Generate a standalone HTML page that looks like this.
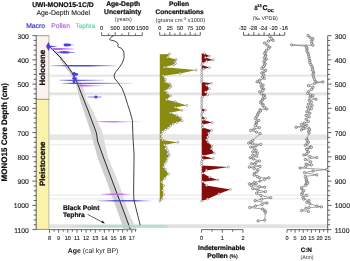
<!DOCTYPE html><html><head><meta charset="utf-8"><style>html,body{margin:0;padding:0;background:#fff;overflow:hidden}svg{display:block;will-change:transform}text{font-family:"Liberation Sans", sans-serif;text-rendering:geometricPrecision}text[font-weight=bold]{stroke:#111;stroke-width:0.22px}</style></head><body>
<svg width="350" height="261" viewBox="0 0 350 261">
<rect width="350" height="261" fill="#fff"/>
<rect x="49.5" y="74.6" width="278.5" height="2.200000000000003" fill="#e6e6e6"/>
<rect x="49.5" y="92.4" width="278.5" height="2.8999999999999915" fill="#e4e4e4"/>
<rect x="49.5" y="134.3" width="278.5" height="5.699999999999989" fill="#e7e7e7"/>
<rect x="49.5" y="143.8" width="278.5" height="1.5" fill="#eeeeee"/>
<rect x="49.5" y="194.6" width="278.5" height="1.200000000000017" fill="#ececec"/>
<rect x="49.5" y="198.0" width="278.5" height="1.5" fill="#efefef"/>
<rect x="49.5" y="224.3" width="278.5" height="3.6999999999999886" fill="#e2e2e2"/>
<rect x="36.2" y="35.6" width="12.6" height="63.7" fill="#fcf3f1"/>
<rect x="36.2" y="99.3" width="12.6" height="130.3" fill="#fcf3ab"/>
<line x1="48.9" y1="35.6" x2="48.9" y2="229.6" stroke="#b4b4a4" stroke-width="0.9"/>
<line x1="36" y1="35.7" x2="49.3" y2="35.7" stroke="#8a8480" stroke-width="0.8"/>
<line x1="36" y1="99.3" x2="49.3" y2="99.3" stroke="#6a6a60" stroke-width="0.7"/>
<line x1="36" y1="229.4" x2="49.3" y2="229.4" stroke="#6a6a60" stroke-width="0.7"/>
<text transform="translate(44.7,67.65) rotate(-90)" text-anchor="middle" font-size="7.9" font-weight="bold" fill="#111" textLength="35.7" lengthAdjust="spacingAndGlyphs">Holocene</text>
<text transform="translate(44.7,163.75) rotate(-90)" text-anchor="middle" font-size="7.8" font-weight="bold" fill="#111" textLength="44.5" lengthAdjust="spacingAndGlyphs">Pleistocene</text>
<g stroke="#3a3a3a" stroke-width="0.8" fill="none">
<line x1="36.2" y1="35.6" x2="36.2" y2="229.6"/>
<line x1="32.40" y1="35.60" x2="36.2" y2="35.60"/>
<line x1="33.70" y1="40.45" x2="36.2" y2="40.45"/>
<line x1="33.70" y1="45.30" x2="36.2" y2="45.30"/>
<line x1="33.70" y1="50.15" x2="36.2" y2="50.15"/>
<line x1="33.70" y1="55.00" x2="36.2" y2="55.00"/>
<line x1="32.40" y1="59.85" x2="36.2" y2="59.85"/>
<line x1="33.70" y1="64.70" x2="36.2" y2="64.70"/>
<line x1="33.70" y1="69.55" x2="36.2" y2="69.55"/>
<line x1="33.70" y1="74.40" x2="36.2" y2="74.40"/>
<line x1="33.70" y1="79.25" x2="36.2" y2="79.25"/>
<line x1="32.40" y1="84.10" x2="36.2" y2="84.10"/>
<line x1="33.70" y1="88.95" x2="36.2" y2="88.95"/>
<line x1="33.70" y1="93.80" x2="36.2" y2="93.80"/>
<line x1="33.70" y1="98.65" x2="36.2" y2="98.65"/>
<line x1="33.70" y1="103.50" x2="36.2" y2="103.50"/>
<line x1="32.40" y1="108.35" x2="36.2" y2="108.35"/>
<line x1="33.70" y1="113.20" x2="36.2" y2="113.20"/>
<line x1="33.70" y1="118.05" x2="36.2" y2="118.05"/>
<line x1="33.70" y1="122.90" x2="36.2" y2="122.90"/>
<line x1="33.70" y1="127.75" x2="36.2" y2="127.75"/>
<line x1="32.40" y1="132.60" x2="36.2" y2="132.60"/>
<line x1="33.70" y1="137.45" x2="36.2" y2="137.45"/>
<line x1="33.70" y1="142.30" x2="36.2" y2="142.30"/>
<line x1="33.70" y1="147.15" x2="36.2" y2="147.15"/>
<line x1="33.70" y1="152.00" x2="36.2" y2="152.00"/>
<line x1="32.40" y1="156.85" x2="36.2" y2="156.85"/>
<line x1="33.70" y1="161.70" x2="36.2" y2="161.70"/>
<line x1="33.70" y1="166.55" x2="36.2" y2="166.55"/>
<line x1="33.70" y1="171.40" x2="36.2" y2="171.40"/>
<line x1="33.70" y1="176.25" x2="36.2" y2="176.25"/>
<line x1="32.40" y1="181.10" x2="36.2" y2="181.10"/>
<line x1="33.70" y1="185.95" x2="36.2" y2="185.95"/>
<line x1="33.70" y1="190.80" x2="36.2" y2="190.80"/>
<line x1="33.70" y1="195.65" x2="36.2" y2="195.65"/>
<line x1="33.70" y1="200.50" x2="36.2" y2="200.50"/>
<line x1="32.40" y1="205.35" x2="36.2" y2="205.35"/>
<line x1="33.70" y1="210.20" x2="36.2" y2="210.20"/>
<line x1="33.70" y1="215.05" x2="36.2" y2="215.05"/>
<line x1="33.70" y1="219.90" x2="36.2" y2="219.90"/>
<line x1="33.70" y1="224.75" x2="36.2" y2="224.75"/>
<line x1="32.40" y1="229.60" x2="36.2" y2="229.60"/>
</g>
<g font-size="6.8" fill="#1e1e1e" text-anchor="end" stroke="#1e1e1e" stroke-width="0.12">
<text x="28.8" y="38.50">300</text>
<text x="28.8" y="62.75">400</text>
<text x="28.8" y="87.00">500</text>
<text x="28.8" y="111.25">600</text>
<text x="28.8" y="135.50">700</text>
<text x="28.8" y="159.75">800</text>
<text x="28.8" y="184.00">900</text>
<text x="28.8" y="208.25">1000</text>
<text x="28.8" y="232.50">1100</text>
</g>
<text transform="translate(6.7,132.25) rotate(-90)" text-anchor="middle" font-size="8" font-weight="bold" fill="#111" textLength="98.3" lengthAdjust="spacingAndGlyphs">MONO15 Core Depth (cm)</text>
<g stroke="#3a3a3a" stroke-width="0.8" fill="none">
<line x1="327.7" y1="35.8" x2="327.7" y2="229.6"/>
<line x1="327.7" y1="35.60" x2="331.50" y2="35.60"/>
<line x1="327.7" y1="40.45" x2="330.20" y2="40.45"/>
<line x1="327.7" y1="45.30" x2="330.20" y2="45.30"/>
<line x1="327.7" y1="50.15" x2="330.20" y2="50.15"/>
<line x1="327.7" y1="55.00" x2="330.20" y2="55.00"/>
<line x1="327.7" y1="59.85" x2="331.50" y2="59.85"/>
<line x1="327.7" y1="64.70" x2="330.20" y2="64.70"/>
<line x1="327.7" y1="69.55" x2="330.20" y2="69.55"/>
<line x1="327.7" y1="74.40" x2="330.20" y2="74.40"/>
<line x1="327.7" y1="79.25" x2="330.20" y2="79.25"/>
<line x1="327.7" y1="84.10" x2="331.50" y2="84.10"/>
<line x1="327.7" y1="88.95" x2="330.20" y2="88.95"/>
<line x1="327.7" y1="93.80" x2="330.20" y2="93.80"/>
<line x1="327.7" y1="98.65" x2="330.20" y2="98.65"/>
<line x1="327.7" y1="103.50" x2="330.20" y2="103.50"/>
<line x1="327.7" y1="108.35" x2="331.50" y2="108.35"/>
<line x1="327.7" y1="113.20" x2="330.20" y2="113.20"/>
<line x1="327.7" y1="118.05" x2="330.20" y2="118.05"/>
<line x1="327.7" y1="122.90" x2="330.20" y2="122.90"/>
<line x1="327.7" y1="127.75" x2="330.20" y2="127.75"/>
<line x1="327.7" y1="132.60" x2="331.50" y2="132.60"/>
<line x1="327.7" y1="137.45" x2="330.20" y2="137.45"/>
<line x1="327.7" y1="142.30" x2="330.20" y2="142.30"/>
<line x1="327.7" y1="147.15" x2="330.20" y2="147.15"/>
<line x1="327.7" y1="152.00" x2="330.20" y2="152.00"/>
<line x1="327.7" y1="156.85" x2="331.50" y2="156.85"/>
<line x1="327.7" y1="161.70" x2="330.20" y2="161.70"/>
<line x1="327.7" y1="166.55" x2="330.20" y2="166.55"/>
<line x1="327.7" y1="171.40" x2="330.20" y2="171.40"/>
<line x1="327.7" y1="176.25" x2="330.20" y2="176.25"/>
<line x1="327.7" y1="181.10" x2="331.50" y2="181.10"/>
<line x1="327.7" y1="185.95" x2="330.20" y2="185.95"/>
<line x1="327.7" y1="190.80" x2="330.20" y2="190.80"/>
<line x1="327.7" y1="195.65" x2="330.20" y2="195.65"/>
<line x1="327.7" y1="200.50" x2="330.20" y2="200.50"/>
<line x1="327.7" y1="205.35" x2="331.50" y2="205.35"/>
<line x1="327.7" y1="210.20" x2="330.20" y2="210.20"/>
<line x1="327.7" y1="215.05" x2="330.20" y2="215.05"/>
<line x1="327.7" y1="219.90" x2="330.20" y2="219.90"/>
<line x1="327.7" y1="224.75" x2="330.20" y2="224.75"/>
<line x1="327.7" y1="229.60" x2="331.50" y2="229.60"/>
</g>
<g font-size="6.8" fill="#1e1e1e" text-anchor="start" stroke="#1e1e1e" stroke-width="0.12">
<text x="334.8" y="38.50">300</text>
<text x="334.8" y="62.75">400</text>
<text x="334.8" y="87.00">500</text>
<text x="334.8" y="111.25">600</text>
<text x="334.8" y="135.50">700</text>
<text x="334.8" y="159.75">800</text>
<text x="334.8" y="184.00">900</text>
<text x="334.8" y="208.25">1000</text>
<text x="334.8" y="232.50">1100</text>
</g>
<text x="63" y="6.9" text-anchor="middle" font-size="6.75" font-weight="bold" fill="#111">UWI-MONO15-1C/D</text>
<text x="63.2" y="14.5" text-anchor="middle" font-size="6.9" fill="#1a1a1a" stroke="#1a1a1a" stroke-width="0.1">Age-Depth Model</text>
<text x="26.2" y="27.8" font-size="6.75" fill="#3434cc" stroke="#3434cc" stroke-width="0.18">Macro</text>
<text x="51.2" y="27.8" font-size="6.75" fill="#b864ea" stroke="#b864ea" stroke-width="0.18">Pollen</text>
<text x="75.5" y="27.8" font-size="6.5" fill="#66d4a0" stroke="#66d4a0" stroke-width="0.18">Tephra</text>
<text x="123.2" y="5.8" text-anchor="middle" font-size="6.75" font-weight="bold" fill="#111">Age-Depth</text>
<text x="122.6" y="13.6" text-anchor="middle" font-size="6.75" font-weight="bold" fill="#111">Uncertainty</text>
<text x="123.4" y="21" text-anchor="middle" font-size="5.5" fill="#333">(years)</text>
<text x="179" y="5.8" text-anchor="middle" font-size="6.7" font-weight="bold" fill="#111">Pollen</text>
<text x="179.6" y="13.6" text-anchor="middle" font-size="6.6" font-weight="bold" fill="#111">Concentrations</text>
<text x="180.4" y="21.5" text-anchor="middle" font-size="5.75" fill="#333">(grains cm<tspan font-size="4" dy="-2">-3</tspan><tspan dy="2"> x1000)</tspan></text>
<text x="254.2" y="9.6" font-size="5.6" font-weight="bold" fill="#1a1a1a">δ</text>
<text x="257.3" y="7.0" font-size="3.8" font-weight="bold" fill="#1a1a1a">13</text>
<text x="262.6" y="9.6" font-size="7" font-weight="bold" fill="#111">C</text>
<text x="267.5" y="11.7" font-size="4.3" font-weight="bold" fill="#111">OC</text>
<text x="265.3" y="20.1" text-anchor="middle" font-size="5.4" fill="#333">(‰ VPDB)</text>
<text x="93.1" y="253.3" text-anchor="middle" font-size="6.9" fill="#222"><tspan font-weight="bold" fill="#111">Age</tspan> (cal kyr BP)</text>
<text x="221.5" y="250" text-anchor="middle" font-size="6.6" font-weight="bold" fill="#111">Indeterminable</text>
<text x="222.5" y="258.4" text-anchor="middle" font-size="6.8" font-weight="bold" fill="#111">Pollen <tspan font-size="5.2" font-weight="normal" fill="#333">(%)</tspan></text>
<text x="306.3" y="251.8" text-anchor="middle" font-size="6.3" font-weight="bold" fill="#111">C:N</text>
<text x="307.1" y="259.3" text-anchor="middle" font-size="5.3" fill="#333">(Atm)</text>
<g stroke="#444" stroke-width="0.8" fill="none">
<line x1="101.6" y1="35.6" x2="142.3" y2="35.6"/>
<line x1="101.60" y1="35.6" x2="101.60" y2="32.2"/>
<line x1="115.17" y1="35.6" x2="115.17" y2="32.2"/>
<line x1="128.73" y1="35.6" x2="128.73" y2="32.2"/>
<line x1="142.30" y1="35.6" x2="142.30" y2="32.2"/>
<line x1="108.38" y1="35.6" x2="108.38" y2="33.5"/>
<line x1="121.95" y1="35.6" x2="121.95" y2="33.5"/>
<line x1="135.52" y1="35.6" x2="135.52" y2="33.5"/>
</g>
<g font-size="5.6" fill="#1e1e1e" stroke="#1e1e1e" stroke-width="0.1" text-anchor="middle">
<text x="101.60" y="29.9">0</text>
<text x="115.17" y="29.9">500</text>
<text x="128.73" y="29.9">1000</text>
<text x="142.30" y="29.9">1500</text>
</g>
<g stroke="#444" stroke-width="0.8" fill="none">
<line x1="159.7" y1="35.3" x2="200.3" y2="35.3"/>
<line x1="159.70" y1="35.3" x2="159.70" y2="31.9"/>
<line x1="169.85" y1="35.3" x2="169.85" y2="31.9"/>
<line x1="180.00" y1="35.3" x2="180.00" y2="31.9"/>
<line x1="190.15" y1="35.3" x2="190.15" y2="31.9"/>
<line x1="200.30" y1="35.3" x2="200.30" y2="31.9"/>
<line x1="164.77" y1="35.3" x2="164.77" y2="33.199999999999996"/>
<line x1="174.93" y1="35.3" x2="174.93" y2="33.199999999999996"/>
<line x1="185.07" y1="35.3" x2="185.07" y2="33.199999999999996"/>
<line x1="195.23" y1="35.3" x2="195.23" y2="33.199999999999996"/>
</g>
<g font-size="5.6" fill="#1e1e1e" stroke="#1e1e1e" stroke-width="0.1" text-anchor="middle">
<text x="159.70" y="29.9">0</text>
<text x="169.85" y="29.9">25</text>
<text x="180.00" y="29.9">50</text>
<text x="190.15" y="29.9">75</text>
<text x="200.30" y="29.9">100</text>
</g>
<g stroke="#444" stroke-width="0.8" fill="none">
<line x1="243.5" y1="35.3" x2="284.7" y2="35.3"/>
<line x1="243.50" y1="35.3" x2="243.50" y2="31.9"/>
<line x1="253.80" y1="35.3" x2="253.80" y2="31.9"/>
<line x1="264.10" y1="35.3" x2="264.10" y2="31.9"/>
<line x1="274.40" y1="35.3" x2="274.40" y2="31.9"/>
<line x1="284.70" y1="35.3" x2="284.70" y2="31.9"/>
<line x1="248.65" y1="35.3" x2="248.65" y2="33.199999999999996"/>
<line x1="258.95" y1="35.3" x2="258.95" y2="33.199999999999996"/>
<line x1="269.25" y1="35.3" x2="269.25" y2="33.199999999999996"/>
<line x1="279.55" y1="35.3" x2="279.55" y2="33.199999999999996"/>
</g>
<g font-size="5.6" fill="#1e1e1e" stroke="#1e1e1e" stroke-width="0.1" text-anchor="middle">
<text x="242.70" y="29.9">-32</text>
<text x="253.00" y="29.9">-28</text>
<text x="263.30" y="29.9">-24</text>
<text x="273.60" y="29.9">-20</text>
<text x="283.90" y="29.9">-16</text>
</g>
<g stroke="#444" stroke-width="0.8" fill="none">
<line x1="49.5" y1="229.6" x2="136.5" y2="229.6"/>
<line x1="49.50" y1="229.6" x2="49.50" y2="232.79999999999998"/>
<line x1="58.65" y1="229.6" x2="58.65" y2="232.79999999999998"/>
<line x1="67.80" y1="229.6" x2="67.80" y2="232.79999999999998"/>
<line x1="76.95" y1="229.6" x2="76.95" y2="232.79999999999998"/>
<line x1="86.10" y1="229.6" x2="86.10" y2="232.79999999999998"/>
<line x1="95.25" y1="229.6" x2="95.25" y2="232.79999999999998"/>
<line x1="104.40" y1="229.6" x2="104.40" y2="232.79999999999998"/>
<line x1="113.55" y1="229.6" x2="113.55" y2="232.79999999999998"/>
<line x1="122.70" y1="229.6" x2="122.70" y2="232.79999999999998"/>
<line x1="131.85" y1="229.6" x2="131.85" y2="232.79999999999998"/>
<line x1="54.08" y1="229.6" x2="54.08" y2="231.7"/>
<line x1="63.23" y1="229.6" x2="63.23" y2="231.7"/>
<line x1="72.38" y1="229.6" x2="72.38" y2="231.7"/>
<line x1="81.53" y1="229.6" x2="81.53" y2="231.7"/>
<line x1="90.68" y1="229.6" x2="90.68" y2="231.7"/>
<line x1="99.83" y1="229.6" x2="99.83" y2="231.7"/>
<line x1="108.97" y1="229.6" x2="108.97" y2="231.7"/>
<line x1="118.12" y1="229.6" x2="118.12" y2="231.7"/>
<line x1="127.28" y1="229.6" x2="127.28" y2="231.7"/>
<line x1="135.51" y1="229.6" x2="135.51" y2="231.7"/>
</g>
<g font-size="5.6" fill="#1e1e1e" stroke="#1e1e1e" stroke-width="0.1" text-anchor="middle">
<text x="49.50" y="240.4">8</text>
<text x="58.65" y="240.4">9</text>
<text x="67.80" y="240.4">10</text>
<text x="76.95" y="240.4">11</text>
<text x="86.10" y="240.4">12</text>
<text x="95.25" y="240.4">13</text>
<text x="104.40" y="240.4">14</text>
<text x="113.55" y="240.4">15</text>
<text x="122.70" y="240.4">16</text>
<text x="131.85" y="240.4">17</text>
</g>
<g stroke="#444" stroke-width="0.8" fill="none">
<line x1="201.6" y1="229.6" x2="243.0" y2="229.6"/>
<line x1="201.60" y1="229.6" x2="201.60" y2="232.79999999999998"/>
<line x1="222.30" y1="229.6" x2="222.30" y2="232.79999999999998"/>
<line x1="243.00" y1="229.6" x2="243.00" y2="232.79999999999998"/>
<line x1="211.95" y1="229.6" x2="211.95" y2="231.7"/>
<line x1="232.65" y1="229.6" x2="232.65" y2="231.7"/>
</g>
<g font-size="5.6" fill="#1e1e1e" stroke="#1e1e1e" stroke-width="0.1" text-anchor="middle">
<text x="201.60" y="240.4">0</text>
<text x="222.30" y="240.4">1</text>
<text x="243.00" y="240.4">2</text>
</g>
<g stroke="#444" stroke-width="0.8" fill="none">
<line x1="287.0" y1="229.6" x2="327.7" y2="229.6"/>
<line x1="287.00" y1="229.6" x2="287.00" y2="232.79999999999998"/>
<line x1="295.14" y1="229.6" x2="295.14" y2="232.79999999999998"/>
<line x1="303.28" y1="229.6" x2="303.28" y2="232.79999999999998"/>
<line x1="311.42" y1="229.6" x2="311.42" y2="232.79999999999998"/>
<line x1="319.56" y1="229.6" x2="319.56" y2="232.79999999999998"/>
<line x1="327.70" y1="229.6" x2="327.70" y2="232.79999999999998"/>
<line x1="291.07" y1="229.6" x2="291.07" y2="231.7"/>
<line x1="299.21" y1="229.6" x2="299.21" y2="231.7"/>
<line x1="307.35" y1="229.6" x2="307.35" y2="231.7"/>
<line x1="315.49" y1="229.6" x2="315.49" y2="231.7"/>
<line x1="323.63" y1="229.6" x2="323.63" y2="231.7"/>
</g>
<g font-size="5.6" fill="#1e1e1e" stroke="#1e1e1e" stroke-width="0.1" text-anchor="middle">
<text x="287.00" y="240.4">0</text>
<text x="295.14" y="240.4">5</text>
<text x="303.28" y="240.4">10</text>
<text x="311.42" y="240.4">15</text>
<text x="319.56" y="240.4">20</text>
<text x="327.70" y="240.4">25</text>
</g>
<polygon points="48.20,45.80 52.00,50.00 59.50,58.00 60.10,60.00 64.50,66.00 71.00,75.00 76.20,85.00 80.10,100.00 83.40,110.00 90.70,132.00 97.40,157.00 108.40,186.00 118.80,215.00 122.20,225.00 123.50,229.30 130.30,229.30 128.80,225.00 125.10,215.00 114.20,186.00 103.30,157.00 97.60,141.00 96.60,134.00 95.80,131.00 91.60,120.00 87.90,110.00 83.90,100.00 80.00,90.00 78.10,85.00 76.50,81.00 73.70,75.00 66.80,65.00 62.30,60.00 61.00,58.00 50.50,47.50 48.50,46.00" fill="#cecece"/>
<polygon points="48.50,46.00 50.50,47.50 61.00,58.00 62.30,60.00 66.80,65.00 73.70,75.00 76.50,81.00 78.10,85.00 80.00,90.00 83.90,100.00 87.90,110.00 91.60,120.00 95.80,131.00 96.60,134.00 97.60,141.00 103.30,157.00 114.20,186.00 125.10,215.00 128.80,225.00 130.30,229.30 136.60,229.30 135.00,225.00 129.70,215.00 119.70,186.00 107.90,157.00 102.40,132.00 92.50,110.00 86.80,100.00 82.50,85.00 75.50,75.00 68.50,66.00 63.70,60.00 63.50,58.00 55.00,50.00 50.30,46.50" fill="#dcdcdc"/>
<polyline points="48.50,46.00 50.50,47.50 61.00,58.00 62.30,60.00 66.80,65.00 73.70,75.00 76.50,81.00 78.10,85.00 80.00,90.00 83.90,100.00 87.90,110.00 91.60,120.00 95.80,131.00 96.60,134.00 97.60,141.00 103.30,157.00 114.20,186.00 125.10,215.00 128.80,225.00 130.30,229.30" fill="none" stroke="#2a2a2a" stroke-width="1.0"/>
<defs><linearGradient id="pg1" gradientUnits="userSpaceOnUse" x1="63.2" y1="0" x2="73.5" y2="0"><stop offset="0.000" stop-color="#4a42da" stop-opacity="0.4"/><stop offset="0.126" stop-color="#4a42da" stop-opacity="1"/><stop offset="0.369" stop-color="#4a42da" stop-opacity="1"/><stop offset="0.660" stop-color="#4a42da" stop-opacity="1"/><stop offset="0.777" stop-color="#4a42da" stop-opacity="0.7"/><stop offset="1.000" stop-color="#4a42da" stop-opacity="0.3"/></linearGradient><linearGradient id="pg2" gradientUnits="userSpaceOnUse" x1="50.6" y1="0" x2="73.7" y2="0"><stop offset="0.000" stop-color="#c064f0" stop-opacity="0.6"/><stop offset="0.147" stop-color="#c064f0" stop-opacity="1"/><stop offset="0.407" stop-color="#c064f0" stop-opacity="1"/><stop offset="0.580" stop-color="#c064f0" stop-opacity="0.85"/><stop offset="1.000" stop-color="#c064f0" stop-opacity="0.45"/></linearGradient><linearGradient id="pg3" gradientUnits="userSpaceOnUse" x1="56.6" y1="0" x2="74.9" y2="0"><stop offset="0.000" stop-color="#4a42da" stop-opacity="0.5"/><stop offset="0.240" stop-color="#4a42da" stop-opacity="0.9"/><stop offset="0.404" stop-color="#4a42da" stop-opacity="1"/><stop offset="0.623" stop-color="#4a42da" stop-opacity="0.9"/><stop offset="0.732" stop-color="#4a42da" stop-opacity="0.7"/><stop offset="1.000" stop-color="#4a42da" stop-opacity="0.5"/></linearGradient><linearGradient id="pg4" gradientUnits="userSpaceOnUse" x1="51" y1="0" x2="116.7" y2="0"><stop offset="0.000" stop-color="#4a42da" stop-opacity="0.3"/><stop offset="0.137" stop-color="#4a42da" stop-opacity="0.6"/><stop offset="0.289" stop-color="#4a42da" stop-opacity="0.95"/><stop offset="0.594" stop-color="#4a42da" stop-opacity="0.95"/><stop offset="0.746" stop-color="#4a42da" stop-opacity="0.7"/><stop offset="1.000" stop-color="#4a42da" stop-opacity="0.2"/></linearGradient><linearGradient id="pg5" gradientUnits="userSpaceOnUse" x1="59.4" y1="0" x2="103.8" y2="0"><stop offset="0.000" stop-color="#4a42da" stop-opacity="0.3"/><stop offset="0.239" stop-color="#4a42da" stop-opacity="0.85"/><stop offset="0.464" stop-color="#4a42da" stop-opacity="0.85"/><stop offset="1.000" stop-color="#4a42da" stop-opacity="0.2"/></linearGradient><linearGradient id="pg6" gradientUnits="userSpaceOnUse" x1="61.6" y1="0" x2="133.5" y2="0"><stop offset="0.000" stop-color="#4a42da" stop-opacity="0.3"/><stop offset="0.145" stop-color="#4a42da" stop-opacity="0.9"/><stop offset="0.465" stop-color="#4a42da" stop-opacity="0.8"/><stop offset="0.673" stop-color="#4a42da" stop-opacity="0.5"/><stop offset="1.000" stop-color="#4a42da" stop-opacity="0.15"/></linearGradient><linearGradient id="pg7" gradientUnits="userSpaceOnUse" x1="78.4" y1="0" x2="104" y2="0"><stop offset="0.000" stop-color="#c064f0" stop-opacity="0.4"/><stop offset="0.062" stop-color="#c064f0" stop-opacity="1"/><stop offset="0.297" stop-color="#c064f0" stop-opacity="0.9"/><stop offset="0.648" stop-color="#c064f0" stop-opacity="0.5"/><stop offset="1.000" stop-color="#c064f0" stop-opacity="0.15"/></linearGradient><linearGradient id="pg8" gradientUnits="userSpaceOnUse" x1="87.4" y1="0" x2="101.8" y2="0"><stop offset="0.000" stop-color="#4a42da" stop-opacity="0.5"/><stop offset="0.528" stop-color="#4a42da" stop-opacity="0.8"/><stop offset="1.000" stop-color="#4a42da" stop-opacity="0.5"/></linearGradient><linearGradient id="pg9" gradientUnits="userSpaceOnUse" x1="95" y1="0" x2="141.5" y2="0"><stop offset="0.000" stop-color="#c064f0" stop-opacity="0.2"/><stop offset="0.172" stop-color="#c064f0" stop-opacity="0.75"/><stop offset="0.430" stop-color="#c064f0" stop-opacity="0.85"/><stop offset="0.645" stop-color="#c064f0" stop-opacity="0.5"/><stop offset="1.000" stop-color="#c064f0" stop-opacity="0.15"/></linearGradient><linearGradient id="pg10" gradientUnits="userSpaceOnUse" x1="100.7" y1="0" x2="130.4" y2="0"><stop offset="0.000" stop-color="#c064f0" stop-opacity="0.3"/><stop offset="0.313" stop-color="#c064f0" stop-opacity="0.9"/><stop offset="0.717" stop-color="#c064f0" stop-opacity="0.9"/><stop offset="1.000" stop-color="#c064f0" stop-opacity="0.2"/></linearGradient><linearGradient id="pg11" gradientUnits="userSpaceOnUse" x1="97" y1="0" x2="151.5" y2="0"><stop offset="0.000" stop-color="#4a42da" stop-opacity="0.3"/><stop offset="0.312" stop-color="#4a42da" stop-opacity="0.85"/><stop offset="0.697" stop-color="#4a42da" stop-opacity="0.85"/><stop offset="1.000" stop-color="#4a42da" stop-opacity="0.15"/></linearGradient><linearGradient id="pg12" gradientUnits="userSpaceOnUse" x1="66" y1="0" x2="167.5" y2="0"><stop offset="0.000" stop-color="#a4dbc6" stop-opacity="0"/><stop offset="0.158" stop-color="#a4dbc6" stop-opacity="0.45"/><stop offset="0.335" stop-color="#a4dbc6" stop-opacity="0.7"/><stop offset="0.926" stop-color="#a4dbc6" stop-opacity="0.7"/><stop offset="1.000" stop-color="#a4dbc6" stop-opacity="0.5"/></linearGradient>
</defs>
<polygon points="46,46.3 48.5,42 50.3,45.8 58,46.8 50.3,47.3 48.5,51.1" fill="#4a42da"/>
<polygon points="63.20,44.60 64.50,43.60 67.00,43.40 70.00,43.70 71.20,44.40 73.50,44.60 73.50,45.20 71.20,45.40 70.00,46.10 67.00,46.40 64.50,46.20 63.20,45.20" fill="url(#pg1)"/>
<polygon points="50.60,48.50 54.00,47.90 60.00,47.90 64.00,48.10 73.70,48.40 73.70,49.40 64.00,49.70 60.00,49.90 54.00,49.90 50.60,49.30" fill="url(#pg2)"/>
<polygon points="56.60,51.90 61.00,51.30 64.00,51.00 68.00,51.20 70.00,51.70 74.90,51.90 74.90,52.70 70.00,52.90 68.00,53.40 64.00,53.60 61.00,53.30 56.60,52.70" fill="url(#pg3)"/>
<polygon points="51.00,65.15 60.00,65.10 70.00,64.95 90.00,64.95 100.00,65.05 116.70,65.25 116.70,66.15 100.00,66.35 90.00,66.45 70.00,66.45 60.00,66.30 51.00,66.25" fill="url(#pg4)"/>
<ellipse cx="75" cy="74.3" rx="3.2" ry="1.5" fill="#4a42da"/>
<ellipse cx="74.5" cy="78.4" rx="2.4" ry="1.2" fill="#4a42da"/>
<ellipse cx="74" cy="81.6" rx="1.4" ry="1.5" fill="#4a42da"/>
<polygon points="73.2,72 75.2,72 74.6,84 73.6,84" fill="#4a42da"/>
<polygon points="59.40,79.85 70.00,79.65 80.00,79.65 103.80,79.85 103.80,80.75 80.00,80.95 70.00,80.95 59.40,80.75" fill="url(#pg5)"/>
<polygon points="61.60,82.95 72.00,82.70 95.00,82.75 110.00,82.85 133.50,83.00 133.50,83.80 110.00,83.95 95.00,84.05 72.00,84.10 61.60,83.85" fill="url(#pg6)"/>
<polygon points="78.40,85.20 80.00,84.60 86.00,84.70 95.00,85.00 104.00,85.20 104.00,86.00 95.00,86.20 86.00,86.50 80.00,86.60 78.40,86.00" fill="url(#pg7)"/>
<polygon points="87.40,96.60 95.00,96.50 101.80,96.60 101.80,97.40 95.00,97.50 87.40,97.40" fill="url(#pg8)"/>
<circle cx="95.9" cy="97.0" r="1.6" fill="#4a42da"/>
<polygon points="95.00,121.30 103.00,121.05 115.00,121.00 125.00,121.15 141.50,121.35 141.50,122.05 125.00,122.25 115.00,122.40 103.00,122.35 95.00,122.10" fill="url(#pg9)"/>
<polygon points="100.70,193.90 110.00,193.50 122.00,193.50 130.40,193.95 130.40,194.65 122.00,195.10 110.00,195.10 100.70,194.70" fill="url(#pg10)"/>
<polygon points="97.00,200.40 114.00,200.00 135.00,200.00 151.50,200.45 151.50,201.15 135.00,201.60 114.00,201.60 97.00,201.20" fill="url(#pg11)"/>
<polygon points="66.00,225.00 82.00,225.00 100.00,225.00 160.00,225.00 167.50,225.00 167.50,227.60 160.00,227.60 100.00,227.60 82.00,227.60 66.00,227.60" fill="url(#pg12)"/>
<text x="63" y="209.6" font-size="6.7" font-weight="bold" fill="#111">Black Point</text>
<text x="63" y="216.6" font-size="6.7" font-weight="bold" fill="#111">Tephra</text>
<line x1="87.6" y1="214.4" x2="103.2" y2="222.6" stroke="#222" stroke-width="0.7"/>
<polygon points="105,223.6 101.3,222.8 102.6,220.6" fill="#222"/>
<polyline points="113.60,35.50 112.00,36.60 109.40,39.10 110.50,40.00 114.00,40.80 117.00,42.40 118.20,44.30 117.70,46.20 118.60,47.30 121.30,48.10 122.80,50.00 123.90,52.00 124.10,57.60 122.40,62.80 119.00,67.90 115.50,72.20 114.10,75.20 114.70,78.60 119.00,83.80 122.40,89.00 125.00,95.90 127.60,104.50 130.20,112.20 132.40,120.30 132.90,135.90 134.10,155.00 133.80,175.00 133.60,192.00 133.90,200.00 140.20,225.20" fill="none" stroke="#222" stroke-width="0.85" stroke-linejoin="round"/>
<polygon points="159.80,54.20 169.50,53.90 167.60,57.20 176.20,59.60 174.80,62.00 175.40,63.40 173.80,64.80 164.20,67.20 196.20,70.10 180.00,73.40 163.30,75.80 165.20,79.20 165.20,82.00 170.00,84.00 170.90,86.40 169.50,87.80 165.20,90.70 167.10,93.10 170.50,96.00 166.60,99.70 175.20,101.70 186.80,105.40 175.20,107.30 181.90,110.30 170.30,112.80 176.40,115.20 180.70,117.70 181.90,120.70 177.00,122.50 173.00,123.80 170.50,125.80 168.20,127.70 165.50,129.50 162.50,131.50 161.10,134.40 161.10,138.20 162.50,140.00 177.80,142.20 164.40,144.90 166.30,147.30 165.50,148.70 167.40,150.60 168.20,152.60 167.30,154.00 169.20,155.40 167.20,158.30 166.30,161.20 164.40,164.00 163.40,167.00 165.50,169.50 168.40,174.10 164.60,178.30 161.70,182.10 163.60,185.70 162.70,190.50 163.60,194.40 161.70,199.20 159.80,201.00 159.80,201.00" fill="#8a8c10"/>
<g fill="#fff" stroke="#666" stroke-width="0.5">
<circle cx="169.5" cy="53.9" r="1.05"/>
<circle cx="167.6" cy="57.2" r="1.05"/>
<circle cx="176.2" cy="59.6" r="1.05"/>
<circle cx="174.8" cy="62" r="1.05"/>
<circle cx="175.4" cy="63.4" r="1.05"/>
<circle cx="173.8" cy="64.8" r="1.05"/>
<circle cx="164.2" cy="67.2" r="1.05"/>
<circle cx="196.2" cy="70.1" r="1.05"/>
<circle cx="180" cy="73.4" r="1.05"/>
<circle cx="163.3" cy="75.8" r="1.05"/>
<circle cx="165.2" cy="79.2" r="1.05"/>
<circle cx="165.2" cy="82" r="1.05"/>
<circle cx="170" cy="84" r="1.05"/>
<circle cx="170.9" cy="86.4" r="1.05"/>
<circle cx="169.5" cy="87.8" r="1.05"/>
<circle cx="165.2" cy="90.7" r="1.05"/>
<circle cx="167.1" cy="93.1" r="1.05"/>
<circle cx="170.5" cy="96" r="1.05"/>
<circle cx="166.6" cy="99.7" r="1.05"/>
<circle cx="175.2" cy="101.7" r="1.05"/>
<circle cx="186.8" cy="105.4" r="1.05"/>
<circle cx="175.2" cy="107.3" r="1.05"/>
<circle cx="181.9" cy="110.3" r="1.05"/>
<circle cx="170.3" cy="112.8" r="1.05"/>
<circle cx="176.4" cy="115.2" r="1.05"/>
<circle cx="180.7" cy="117.7" r="1.05"/>
<circle cx="181.9" cy="120.7" r="1.05"/>
<circle cx="177" cy="122.5" r="1.05"/>
<circle cx="173" cy="123.8" r="1.05"/>
<circle cx="170.5" cy="125.8" r="1.05"/>
<circle cx="168.2" cy="127.7" r="1.05"/>
<circle cx="165.5" cy="129.5" r="1.05"/>
<circle cx="162.5" cy="131.5" r="1.05"/>
<circle cx="161.1" cy="134.4" r="1.05"/>
<circle cx="161.1" cy="138.2" r="1.05"/>
<circle cx="162.5" cy="140" r="1.05"/>
<circle cx="177.8" cy="142.2" r="1.05"/>
<circle cx="164.4" cy="144.9" r="1.05"/>
<circle cx="166.3" cy="147.3" r="1.05"/>
<circle cx="165.5" cy="148.7" r="1.05"/>
<circle cx="167.4" cy="150.6" r="1.05"/>
<circle cx="168.2" cy="152.6" r="1.05"/>
<circle cx="167.3" cy="154" r="1.05"/>
<circle cx="169.2" cy="155.4" r="1.05"/>
<circle cx="167.2" cy="158.3" r="1.05"/>
<circle cx="166.3" cy="161.2" r="1.05"/>
<circle cx="164.4" cy="164" r="1.05"/>
<circle cx="163.4" cy="167" r="1.05"/>
<circle cx="165.5" cy="169.5" r="1.05"/>
<circle cx="168.4" cy="174.1" r="1.05"/>
<circle cx="164.6" cy="178.3" r="1.05"/>
<circle cx="161.7" cy="182.1" r="1.05"/>
<circle cx="163.6" cy="185.7" r="1.05"/>
<circle cx="162.7" cy="190.5" r="1.05"/>
<circle cx="163.6" cy="194.4" r="1.05"/>
<circle cx="161.7" cy="199.2" r="1.05"/>
<circle cx="159.8" cy="201" r="1.05"/>
</g>
<polygon points="201.70,53.60 204.60,53.60 209.40,56.10 205.50,57.50 213.20,59.90 206.50,61.30 202.70,63.20 201.70,65.10 209.40,67.60 203.60,68.90 201.70,70.00 201.70,72.50 201.70,75.00 201.70,77.50 201.70,80.00 201.70,82.00 211.30,83.30 206.50,85.20 209.40,88.70 205.50,92.00 207.50,94.80 202.70,96.70 201.70,98.50 201.70,101.00 201.70,103.50 201.70,106.00 201.70,108.20 205.50,110.10 202.70,112.00 201.70,114.00 201.70,116.00 205.50,118.40 202.70,119.70 212.20,122.60 202.70,124.50 202.70,127.40 211.50,130.30 208.60,133.20 207.60,137.00 206.70,139.90 208.10,142.30 211.90,146.10 211.30,148.80 214.20,153.20 202.70,155.70 213.20,158.40 202.70,159.50 201.70,161.50 201.70,163.50 201.70,165.40 228.40,167.00 206.50,170.40 202.70,173.30 209.40,177.10 218.00,180.00 202.70,181.70 206.50,185.50 230.40,189.40 219.00,193.80 207.50,199.00 201.70,200.90 201.70,200.90" fill="#860b0b"/>
<g fill="#fff" stroke="#666" stroke-width="0.5">
<circle cx="204.6" cy="53.6" r="1.05"/>
<circle cx="209.4" cy="56.1" r="1.05"/>
<circle cx="205.5" cy="57.5" r="1.05"/>
<circle cx="213.2" cy="59.9" r="1.05"/>
<circle cx="206.5" cy="61.3" r="1.05"/>
<circle cx="202.7" cy="63.2" r="1.05"/>
<circle cx="201.7" cy="65.1" r="1.05"/>
<circle cx="209.4" cy="67.6" r="1.05"/>
<circle cx="203.6" cy="68.9" r="1.05"/>
<circle cx="201.7" cy="70" r="1.05"/>
<circle cx="201.7" cy="72.5" r="1.05"/>
<circle cx="201.7" cy="75" r="1.05"/>
<circle cx="201.7" cy="77.5" r="1.05"/>
<circle cx="201.7" cy="80" r="1.05"/>
<circle cx="201.7" cy="82" r="1.05"/>
<circle cx="211.3" cy="83.3" r="1.05"/>
<circle cx="206.5" cy="85.2" r="1.05"/>
<circle cx="209.4" cy="88.7" r="1.05"/>
<circle cx="205.5" cy="92" r="1.05"/>
<circle cx="207.5" cy="94.8" r="1.05"/>
<circle cx="202.7" cy="96.7" r="1.05"/>
<circle cx="201.7" cy="98.5" r="1.05"/>
<circle cx="201.7" cy="101" r="1.05"/>
<circle cx="201.7" cy="103.5" r="1.05"/>
<circle cx="201.7" cy="106" r="1.05"/>
<circle cx="201.7" cy="108.2" r="1.05"/>
<circle cx="205.5" cy="110.1" r="1.05"/>
<circle cx="202.7" cy="112" r="1.05"/>
<circle cx="201.7" cy="114" r="1.05"/>
<circle cx="201.7" cy="116" r="1.05"/>
<circle cx="205.5" cy="118.4" r="1.05"/>
<circle cx="202.7" cy="119.7" r="1.05"/>
<circle cx="212.2" cy="122.6" r="1.05"/>
<circle cx="202.7" cy="124.5" r="1.05"/>
<circle cx="202.7" cy="127.4" r="1.05"/>
<circle cx="211.5" cy="130.3" r="1.05"/>
<circle cx="208.6" cy="133.2" r="1.05"/>
<circle cx="207.6" cy="137" r="1.05"/>
<circle cx="206.7" cy="139.9" r="1.05"/>
<circle cx="208.1" cy="142.3" r="1.05"/>
<circle cx="211.9" cy="146.1" r="1.05"/>
<circle cx="211.3" cy="148.8" r="1.05"/>
<circle cx="214.2" cy="153.2" r="1.05"/>
<circle cx="202.7" cy="155.7" r="1.05"/>
<circle cx="213.2" cy="158.4" r="1.05"/>
<circle cx="202.7" cy="159.5" r="1.05"/>
<circle cx="201.7" cy="161.5" r="1.05"/>
<circle cx="201.7" cy="163.5" r="1.05"/>
<circle cx="201.7" cy="165.4" r="1.05"/>
<circle cx="228.4" cy="167.0" r="1.05"/>
<circle cx="206.5" cy="170.4" r="1.05"/>
<circle cx="202.7" cy="173.3" r="1.05"/>
<circle cx="209.4" cy="177.1" r="1.05"/>
<circle cx="218" cy="180" r="1.05"/>
<circle cx="202.7" cy="181.7" r="1.05"/>
<circle cx="206.5" cy="185.5" r="1.05"/>
<circle cx="230.4" cy="189.4" r="1.05"/>
<circle cx="219" cy="193.8" r="1.05"/>
<circle cx="207.5" cy="199" r="1.05"/>
<circle cx="201.7" cy="200.9" r="1.05"/>
</g>
<polyline points="269.80,36.50 271.50,38.50 273.20,40.40 268.50,41.00 264.40,43.00 267.10,45.00 269.80,47.10 268.50,48.40 266.40,50.40 265.10,52.40 264.77,53.75 265.80,55.10 265.21,56.45 264.40,57.80 266.40,59.10 264.76,60.45 263.80,61.80 265.10,63.80 264.40,65.20 263.37,66.80 261.80,68.40 265.80,70.40 264.13,71.70 261.80,73.00 263.80,75.00 262.40,77.10 264.40,78.40 259.62,80.10 257.10,81.80 260.40,83.10 263.10,85.10 261.18,86.45 261.80,87.80 263.80,89.10 262.63,90.45 259.70,91.80 261.80,93.80 264.40,95.20 263.50,96.20 264.80,97.70 262.82,99.05 262.10,100.40 260.76,101.70 260.80,103.00 263.09,104.35 262.80,105.70 264.72,107.40 266.80,109.10 260.10,109.70 260.32,111.05 258.80,112.40 258.04,113.75 257.40,115.10 256.76,116.80 255.40,118.50 258.80,120.50 256.54,121.85 256.10,123.20 256.10,124.45 255.40,125.70 259.40,127.70 254.10,129.00 250.70,130.40 256.36,132.05 260.10,133.70 252.70,140.40 250.76,141.75 248.70,143.10 252.70,143.80 260.80,144.40 256.10,145.80 250.70,147.10 254.10,148.50 256.10,150.50 252.70,151.80 257.40,153.20 252.70,155.20 256.80,156.30 250.10,157.80 253.40,159.00 259.40,161.00 256.03,162.35 251.40,163.70 254.70,164.40 260.10,166.40 249.40,167.10 254.20,168.40 258.10,169.70 256.80,171.80 254.32,173.45 254.10,175.10 257.42,176.45 259.40,177.80 268.80,177.80 264.69,179.45 260.10,181.10 254.23,182.45 249.40,183.80 256.10,183.80 251.20,185.70 259.50,186.50 264.70,187.20 252.70,188.70 258.00,190.20 265.40,191.70 256.50,193.20 261.00,195.50 270.70,197.70 261.63,199.20 255.00,200.70 267.00,203.00 262.18,204.50 255.40,206.00 249.70,207.50 262.50,209.00 264.04,210.23 265.42,211.47 265.40,212.70 264.70,220.20 258.00,220.90" fill="none" stroke="#666" stroke-width="0.6"/>
<g fill="#e4e4e4" stroke="#555" stroke-width="0.6">
<circle cx="269.80" cy="36.50" r="1.2"/>
<circle cx="271.50" cy="38.50" r="1.2"/>
<circle cx="273.20" cy="40.40" r="1.2"/>
<circle cx="268.50" cy="41.00" r="1.2"/>
<circle cx="264.40" cy="43.00" r="1.2"/>
<circle cx="267.10" cy="45.00" r="1.2"/>
<circle cx="269.80" cy="47.10" r="1.2"/>
<circle cx="268.50" cy="48.40" r="1.2"/>
<circle cx="266.40" cy="50.40" r="1.2"/>
<circle cx="265.10" cy="52.40" r="1.2"/>
<circle cx="264.77" cy="53.75" r="1.2"/>
<circle cx="265.80" cy="55.10" r="1.2"/>
<circle cx="265.21" cy="56.45" r="1.2"/>
<circle cx="264.40" cy="57.80" r="1.2"/>
<circle cx="266.40" cy="59.10" r="1.2"/>
<circle cx="264.76" cy="60.45" r="1.2"/>
<circle cx="263.80" cy="61.80" r="1.2"/>
<circle cx="265.10" cy="63.80" r="1.2"/>
<circle cx="264.40" cy="65.20" r="1.2"/>
<circle cx="263.37" cy="66.80" r="1.2"/>
<circle cx="261.80" cy="68.40" r="1.2"/>
<circle cx="265.80" cy="70.40" r="1.2"/>
<circle cx="264.13" cy="71.70" r="1.2"/>
<circle cx="261.80" cy="73.00" r="1.2"/>
<circle cx="263.80" cy="75.00" r="1.2"/>
<circle cx="262.40" cy="77.10" r="1.2"/>
<circle cx="264.40" cy="78.40" r="1.2"/>
<circle cx="259.62" cy="80.10" r="1.2"/>
<circle cx="257.10" cy="81.80" r="1.2"/>
<circle cx="260.40" cy="83.10" r="1.2"/>
<circle cx="263.10" cy="85.10" r="1.2"/>
<circle cx="261.18" cy="86.45" r="1.2"/>
<circle cx="261.80" cy="87.80" r="1.2"/>
<circle cx="263.80" cy="89.10" r="1.2"/>
<circle cx="262.63" cy="90.45" r="1.2"/>
<circle cx="259.70" cy="91.80" r="1.2"/>
<circle cx="261.80" cy="93.80" r="1.2"/>
<circle cx="264.40" cy="95.20" r="1.2"/>
<circle cx="263.50" cy="96.20" r="1.2"/>
<circle cx="264.80" cy="97.70" r="1.2"/>
<circle cx="262.82" cy="99.05" r="1.2"/>
<circle cx="262.10" cy="100.40" r="1.2"/>
<circle cx="260.76" cy="101.70" r="1.2"/>
<circle cx="260.80" cy="103.00" r="1.2"/>
<circle cx="263.09" cy="104.35" r="1.2"/>
<circle cx="262.80" cy="105.70" r="1.2"/>
<circle cx="264.72" cy="107.40" r="1.2"/>
<circle cx="266.80" cy="109.10" r="1.2"/>
<circle cx="260.10" cy="109.70" r="1.2"/>
<circle cx="260.32" cy="111.05" r="1.2"/>
<circle cx="258.80" cy="112.40" r="1.2"/>
<circle cx="258.04" cy="113.75" r="1.2"/>
<circle cx="257.40" cy="115.10" r="1.2"/>
<circle cx="256.76" cy="116.80" r="1.2"/>
<circle cx="255.40" cy="118.50" r="1.2"/>
<circle cx="258.80" cy="120.50" r="1.2"/>
<circle cx="256.54" cy="121.85" r="1.2"/>
<circle cx="256.10" cy="123.20" r="1.2"/>
<circle cx="256.10" cy="124.45" r="1.2"/>
<circle cx="255.40" cy="125.70" r="1.2"/>
<circle cx="259.40" cy="127.70" r="1.2"/>
<circle cx="254.10" cy="129.00" r="1.2"/>
<circle cx="250.70" cy="130.40" r="1.2"/>
<circle cx="256.36" cy="132.05" r="1.2"/>
<circle cx="260.10" cy="133.70" r="1.2"/>
<circle cx="252.70" cy="140.40" r="1.2"/>
<circle cx="250.76" cy="141.75" r="1.2"/>
<circle cx="248.70" cy="143.10" r="1.2"/>
<circle cx="252.70" cy="143.80" r="1.2"/>
<circle cx="260.80" cy="144.40" r="1.2"/>
<circle cx="256.10" cy="145.80" r="1.2"/>
<circle cx="250.70" cy="147.10" r="1.2"/>
<circle cx="254.10" cy="148.50" r="1.2"/>
<circle cx="256.10" cy="150.50" r="1.2"/>
<circle cx="252.70" cy="151.80" r="1.2"/>
<circle cx="257.40" cy="153.20" r="1.2"/>
<circle cx="252.70" cy="155.20" r="1.2"/>
<circle cx="256.80" cy="156.30" r="1.2"/>
<circle cx="250.10" cy="157.80" r="1.2"/>
<circle cx="253.40" cy="159.00" r="1.2"/>
<circle cx="259.40" cy="161.00" r="1.2"/>
<circle cx="256.03" cy="162.35" r="1.2"/>
<circle cx="251.40" cy="163.70" r="1.2"/>
<circle cx="254.70" cy="164.40" r="1.2"/>
<circle cx="260.10" cy="166.40" r="1.2"/>
<circle cx="249.40" cy="167.10" r="1.2"/>
<circle cx="254.20" cy="168.40" r="1.2"/>
<circle cx="258.10" cy="169.70" r="1.2"/>
<circle cx="256.80" cy="171.80" r="1.2"/>
<circle cx="254.32" cy="173.45" r="1.2"/>
<circle cx="254.10" cy="175.10" r="1.2"/>
<circle cx="257.42" cy="176.45" r="1.2"/>
<circle cx="259.40" cy="177.80" r="1.2"/>
<circle cx="268.80" cy="177.80" r="1.2"/>
<circle cx="264.69" cy="179.45" r="1.2"/>
<circle cx="260.10" cy="181.10" r="1.2"/>
<circle cx="254.23" cy="182.45" r="1.2"/>
<circle cx="249.40" cy="183.80" r="1.2"/>
<circle cx="256.10" cy="183.80" r="1.2"/>
<circle cx="251.20" cy="185.70" r="1.2"/>
<circle cx="259.50" cy="186.50" r="1.2"/>
<circle cx="264.70" cy="187.20" r="1.2"/>
<circle cx="252.70" cy="188.70" r="1.2"/>
<circle cx="258.00" cy="190.20" r="1.2"/>
<circle cx="265.40" cy="191.70" r="1.2"/>
<circle cx="256.50" cy="193.20" r="1.2"/>
<circle cx="261.00" cy="195.50" r="1.2"/>
<circle cx="270.70" cy="197.70" r="1.2"/>
<circle cx="261.63" cy="199.20" r="1.2"/>
<circle cx="255.00" cy="200.70" r="1.2"/>
<circle cx="267.00" cy="203.00" r="1.2"/>
<circle cx="262.18" cy="204.50" r="1.2"/>
<circle cx="255.40" cy="206.00" r="1.2"/>
<circle cx="249.70" cy="207.50" r="1.2"/>
<circle cx="262.50" cy="209.00" r="1.2"/>
<circle cx="264.04" cy="210.23" r="1.2"/>
<circle cx="265.42" cy="211.47" r="1.2"/>
<circle cx="265.40" cy="212.70" r="1.2"/>
<circle cx="264.70" cy="220.20" r="1.2"/>
<circle cx="258.00" cy="220.90" r="1.2"/>
</g>
<polyline points="308.00,35.40 309.90,37.30 312.80,38.60 312.02,40.05 311.80,41.50 311.74,43.40 312.80,45.30 291.70,44.90 306.10,46.30 306.79,47.75 307.00,49.20 306.82,51.10 308.00,53.00 308.56,54.90 309.00,56.80 309.24,58.75 309.90,60.70 309.69,62.60 310.90,64.50 311.86,66.40 312.80,68.30 312.51,70.20 313.70,72.10 313.24,73.55 313.00,75.00 313.70,77.30 314.50,79.60 316.00,81.90 322.90,81.90 314.50,83.40 308.40,85.70 313.00,87.30 311.40,89.50 308.40,91.80 307.60,93.40 310.70,94.90 313.00,95.70 309.90,97.20 316.00,99.20 309.10,100.30 311.40,102.30 308.40,104.10 312.20,105.60 307.60,107.20 311.40,108.70 308.41,110.25 306.80,111.80 309.90,113.30 306.10,115.40 309.10,116.90 306.10,119.20 308.40,121.50 304.30,123.00 301.50,124.50 306.80,125.30 296.10,127.20 305.30,126.80 303.28,128.35 301.50,129.90 309.10,128.40 309.62,129.93 308.50,131.47 309.10,133.00 306.80,139.10 307.16,140.65 308.40,142.20 307.05,143.70 305.30,145.20 310.70,146.80 306.80,149.00 311.40,147.30 306.80,149.60 308.40,151.90 306.82,153.45 303.80,155.00 309.90,156.50 316.80,157.60 305.30,159.50 310.70,161.80 306.10,164.10 311.40,164.90 305.82,166.45 300.00,168.00 326.80,169.50 313.00,171.00 304.50,172.60 316.80,174.90 305.30,176.40 306.10,178.70 306.28,180.25 306.80,181.80 306.10,184.00 307.60,182.30 307.21,183.85 305.30,185.40 301.50,187.70 301.92,189.20 303.80,190.70 302.30,193.00 301.50,194.50 306.80,195.30 303.00,197.60 303.80,199.10 309.10,200.70 306.80,202.20 309.90,203.70 316.80,206.00 321.40,206.80 309.10,207.60 306.10,208.30 301.50,210.60 308.40,211.40" fill="none" stroke="#666" stroke-width="0.6"/>
<g fill="#e4e4e4" stroke="#555" stroke-width="0.6">
<circle cx="308.00" cy="35.40" r="1.2"/>
<circle cx="309.90" cy="37.30" r="1.2"/>
<circle cx="312.80" cy="38.60" r="1.2"/>
<circle cx="312.02" cy="40.05" r="1.2"/>
<circle cx="311.80" cy="41.50" r="1.2"/>
<circle cx="311.74" cy="43.40" r="1.2"/>
<circle cx="312.80" cy="45.30" r="1.2"/>
<circle cx="291.70" cy="44.90" r="1.2"/>
<circle cx="306.10" cy="46.30" r="1.2"/>
<circle cx="306.79" cy="47.75" r="1.2"/>
<circle cx="307.00" cy="49.20" r="1.2"/>
<circle cx="306.82" cy="51.10" r="1.2"/>
<circle cx="308.00" cy="53.00" r="1.2"/>
<circle cx="308.56" cy="54.90" r="1.2"/>
<circle cx="309.00" cy="56.80" r="1.2"/>
<circle cx="309.24" cy="58.75" r="1.2"/>
<circle cx="309.90" cy="60.70" r="1.2"/>
<circle cx="309.69" cy="62.60" r="1.2"/>
<circle cx="310.90" cy="64.50" r="1.2"/>
<circle cx="311.86" cy="66.40" r="1.2"/>
<circle cx="312.80" cy="68.30" r="1.2"/>
<circle cx="312.51" cy="70.20" r="1.2"/>
<circle cx="313.70" cy="72.10" r="1.2"/>
<circle cx="313.24" cy="73.55" r="1.2"/>
<circle cx="313.00" cy="75.00" r="1.2"/>
<circle cx="313.70" cy="77.30" r="1.2"/>
<circle cx="314.50" cy="79.60" r="1.2"/>
<circle cx="316.00" cy="81.90" r="1.2"/>
<circle cx="322.90" cy="81.90" r="1.2"/>
<circle cx="314.50" cy="83.40" r="1.2"/>
<circle cx="308.40" cy="85.70" r="1.2"/>
<circle cx="313.00" cy="87.30" r="1.2"/>
<circle cx="311.40" cy="89.50" r="1.2"/>
<circle cx="308.40" cy="91.80" r="1.2"/>
<circle cx="307.60" cy="93.40" r="1.2"/>
<circle cx="310.70" cy="94.90" r="1.2"/>
<circle cx="313.00" cy="95.70" r="1.2"/>
<circle cx="309.90" cy="97.20" r="1.2"/>
<circle cx="316.00" cy="99.20" r="1.2"/>
<circle cx="309.10" cy="100.30" r="1.2"/>
<circle cx="311.40" cy="102.30" r="1.2"/>
<circle cx="308.40" cy="104.10" r="1.2"/>
<circle cx="312.20" cy="105.60" r="1.2"/>
<circle cx="307.60" cy="107.20" r="1.2"/>
<circle cx="311.40" cy="108.70" r="1.2"/>
<circle cx="308.41" cy="110.25" r="1.2"/>
<circle cx="306.80" cy="111.80" r="1.2"/>
<circle cx="309.90" cy="113.30" r="1.2"/>
<circle cx="306.10" cy="115.40" r="1.2"/>
<circle cx="309.10" cy="116.90" r="1.2"/>
<circle cx="306.10" cy="119.20" r="1.2"/>
<circle cx="308.40" cy="121.50" r="1.2"/>
<circle cx="304.30" cy="123.00" r="1.2"/>
<circle cx="301.50" cy="124.50" r="1.2"/>
<circle cx="306.80" cy="125.30" r="1.2"/>
<circle cx="296.10" cy="127.20" r="1.2"/>
<circle cx="305.30" cy="126.80" r="1.2"/>
<circle cx="303.28" cy="128.35" r="1.2"/>
<circle cx="301.50" cy="129.90" r="1.2"/>
<circle cx="309.10" cy="128.40" r="1.2"/>
<circle cx="309.62" cy="129.93" r="1.2"/>
<circle cx="308.50" cy="131.47" r="1.2"/>
<circle cx="309.10" cy="133.00" r="1.2"/>
<circle cx="306.80" cy="139.10" r="1.2"/>
<circle cx="307.16" cy="140.65" r="1.2"/>
<circle cx="308.40" cy="142.20" r="1.2"/>
<circle cx="307.05" cy="143.70" r="1.2"/>
<circle cx="305.30" cy="145.20" r="1.2"/>
<circle cx="310.70" cy="146.80" r="1.2"/>
<circle cx="306.80" cy="149.00" r="1.2"/>
<circle cx="311.40" cy="147.30" r="1.2"/>
<circle cx="306.80" cy="149.60" r="1.2"/>
<circle cx="308.40" cy="151.90" r="1.2"/>
<circle cx="306.82" cy="153.45" r="1.2"/>
<circle cx="303.80" cy="155.00" r="1.2"/>
<circle cx="309.90" cy="156.50" r="1.2"/>
<circle cx="316.80" cy="157.60" r="1.2"/>
<circle cx="305.30" cy="159.50" r="1.2"/>
<circle cx="310.70" cy="161.80" r="1.2"/>
<circle cx="306.10" cy="164.10" r="1.2"/>
<circle cx="311.40" cy="164.90" r="1.2"/>
<circle cx="305.82" cy="166.45" r="1.2"/>
<circle cx="300.00" cy="168.00" r="1.2"/>
<circle cx="326.80" cy="169.50" r="1.2"/>
<circle cx="313.00" cy="171.00" r="1.2"/>
<circle cx="304.50" cy="172.60" r="1.2"/>
<circle cx="316.80" cy="174.90" r="1.2"/>
<circle cx="305.30" cy="176.40" r="1.2"/>
<circle cx="306.10" cy="178.70" r="1.2"/>
<circle cx="306.28" cy="180.25" r="1.2"/>
<circle cx="306.80" cy="181.80" r="1.2"/>
<circle cx="306.10" cy="184.00" r="1.2"/>
<circle cx="307.60" cy="182.30" r="1.2"/>
<circle cx="307.21" cy="183.85" r="1.2"/>
<circle cx="305.30" cy="185.40" r="1.2"/>
<circle cx="301.50" cy="187.70" r="1.2"/>
<circle cx="301.92" cy="189.20" r="1.2"/>
<circle cx="303.80" cy="190.70" r="1.2"/>
<circle cx="302.30" cy="193.00" r="1.2"/>
<circle cx="301.50" cy="194.50" r="1.2"/>
<circle cx="306.80" cy="195.30" r="1.2"/>
<circle cx="303.00" cy="197.60" r="1.2"/>
<circle cx="303.80" cy="199.10" r="1.2"/>
<circle cx="309.10" cy="200.70" r="1.2"/>
<circle cx="306.80" cy="202.20" r="1.2"/>
<circle cx="309.90" cy="203.70" r="1.2"/>
<circle cx="316.80" cy="206.00" r="1.2"/>
<circle cx="321.40" cy="206.80" r="1.2"/>
<circle cx="309.10" cy="207.60" r="1.2"/>
<circle cx="306.10" cy="208.30" r="1.2"/>
<circle cx="301.50" cy="210.60" r="1.2"/>
<circle cx="308.40" cy="211.40" r="1.2"/>
</g>
</svg></body></html>
